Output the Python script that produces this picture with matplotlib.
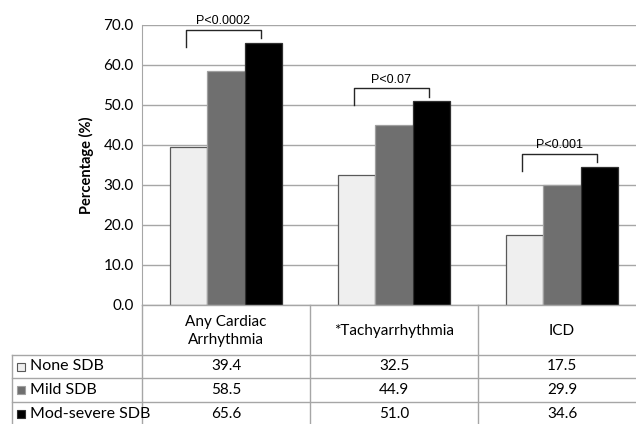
import matplotlib
matplotlib.use("Agg")
import matplotlib.pyplot as plt
import numpy as np

categories = ["Any Cardiac\nArrhythmia", "*Tachyarrhythmia", "ICD"]
series_names = ["None SDB", "Mild SDB", "Mod-severe SDB"]
none_sdb = [39.4, 32.5, 17.5]
mild_sdb = [58.5, 44.9, 29.9]
mod_sdb = [65.6, 51.0, 34.6]
p_labels = ["P<0.0002", "P<0.07", "P<0.001"]
yticks = [0, 10, 20, 30, 40, 50, 60, 70]

colors = ["#efefef", "#6f6f6f", "#000000"]
edges = ["#595959", "#a0a0a0", "#303030"]
series = [none_sdb, mild_sdb, mod_sdb]

W, H = 636, 424
fig = plt.figure(figsize=(W / 100, H / 100), dpi=100)
font = "Lato"
grid_c = "#a6a6a6"

# main axes (pixel geometry)
x0, x1, ytop, ybot = 142, 646, 25, 305
ax = fig.add_axes([x0 / W, 1 - ybot / H, (x1 - x0) / W, (ybot - ytop) / H])
n = len(categories)
xs = np.arange(n)
bw = 0.223
for k, (vals, c, e) in enumerate(zip(series, colors, edges)):
    ax.bar(xs + (k - 1) * bw, vals, width=bw, color=c, edgecolor=e, linewidth=0.9, zorder=3)
ax.set_xlim(-0.5, n - 0.5)
ax.set_ylim(0, 70)
ax.set_yticks(yticks)
ax.set_yticklabels([f"{v:.1f}" for v in yticks], fontfamily=font, fontsize=11)
ax.set_xticks([])
ax.tick_params(axis="y", length=0, pad=6)
ax.yaxis.grid(True, color=grid_c, linewidth=1, zorder=0)
for s in ["top", "right", "bottom"]:
    ax.spines[s].set_visible(False)
ax.spines["left"].set_color(grid_c)
ax.set_ylabel("Percentage (%)", fontfamily=font, fontsize=10.5, fontweight="bold", labelpad=7)

# significance brackets
for i, lab in enumerate(p_labels):
    top = mod_sdb[i] + 3.2
    lx, rx = i - 0.24, i + 0.21
    ax.plot([lx, lx, rx, rx], [top - 4.3, top, top, top - 2.1], color="#262626", lw=1, zorder=4, clip_on=False)
    ax.text(i - 0.015, top + 0.6, lab, ha="center", va="bottom", fontfamily="Liberation Sans", fontsize=9, zorder=4)

# table overlay in pixel coords
tax = fig.add_axes([0, 0, 1, 1])
tax.set_xlim(0, W)
tax.set_ylim(H, 0)
tax.axis("off")
lc = grid_c
col_edges = [142, 310, 478, 646]
row_y = [305, 355, 378, 402, 426]
tax.plot([142, W], [305, 305], color=lc, lw=1)
for y in row_y[1:4]:
    tax.plot([12, W], [y, y], color=lc, lw=1)
tax.plot([12, 12], [355, H], color=lc, lw=1)
tax.plot([142, 142], [305, H], color=lc, lw=1)
for x in col_edges[1:3]:
    tax.plot([x, x], [305, H], color=lc, lw=1)

for j, cat in enumerate(categories):
    cx = (col_edges[j] + col_edges[j + 1]) / 2
    tax.text(cx, 331, cat, ha="center", va="center", fontfamily=font, fontsize=11, linespacing=1.4)
    for r, vals in enumerate(series):
        cy = (row_y[r + 1] + row_y[r + 2]) / 2
        tax.text(cx, cy, f"{vals[j]:.1f}", ha="center", va="center", fontfamily=font, fontsize=11)

for r, name in enumerate(series_names):
    cy = (row_y[r + 1] + row_y[r + 2]) / 2
    tax.add_patch(plt.Rectangle((17, cy - 4), 8, 8, facecolor=colors[r], edgecolor=edges[r], lw=0.8))
    tax.text(30, cy, name, ha="left", va="center", fontfamily=font, fontsize=11.5)

fig.savefig("out.png", dpi=100)
